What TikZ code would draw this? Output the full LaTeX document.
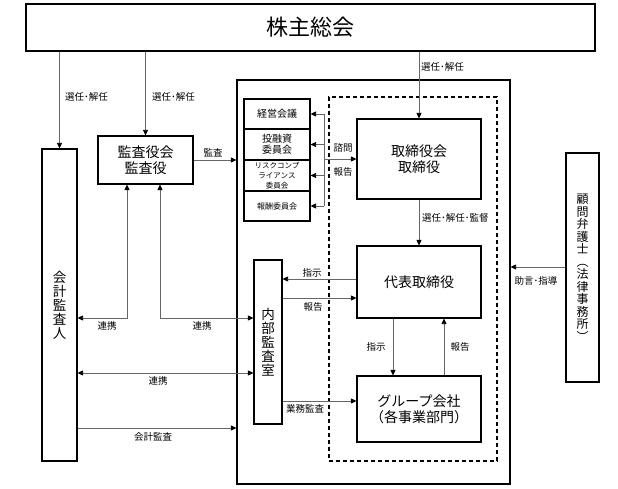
\documentclass[tikz,border=0pt]{standalone}
\usepackage{fontspec}
\setmainfont{Noto Sans CJK JP}
\usetikzlibrary{arrows.meta}
\begin{document}
\begin{tikzpicture}[x=1pt,y=-1pt,
  box/.style={draw=black,line width=1.1pt,inner sep=0pt,align=center},
  conn/.style={draw=black!60,line width=0.8pt},
  tip/.tip={Triangle[length=5.5pt,width=5pt,color=black]},
  arr/.style={conn,-tip},
  darr/.style={conn,tip-tip},
  lbl/.style={font=\fontsize{9.5}{11}\selectfont,inner sep=0pt}]
\useasboundingbox (0,0) rectangle (618,489);
\fill[white] (0,0) rectangle (618,489);

% frames
\node[draw=black,line width=1.1pt,minimum width=273pt,minimum height=404pt,inner sep=0pt] (big) at (373.5,282) {};
\node[draw=black,line width=1.1pt,dash pattern=on 4pt off 3pt,minimum width=168pt,minimum height=364pt,inner sep=0pt] (dash) at (413,279) {};

% boxes
\node[box,minimum width=569pt,minimum height=47pt,font=\fontsize{22}{24}\selectfont] (top) at (310.5,27.5) {株主総会};
\node[box,minimum width=35pt,minimum height=312pt,font=\fontsize{13.5}{14}\selectfont] (kaikei) at (59.5,305) {会\\計\\監\\査\\人};
\node[box,minimum width=95pt,minimum height=48pt,font=\fontsize{14}{16}\selectfont] (kansa) at (145.5,160) {監査役会\\監査役};
\node[box,minimum width=66pt,minimum height=30pt,font=\fontsize{10}{11}\selectfont] (c1) at (277,114) {経営会議};
\node[box,minimum width=66pt,minimum height=31pt,font=\fontsize{10}{11}\selectfont] (c2) at (277,144.5) {投融資\\委員会};
\node[box,minimum width=66pt,minimum height=31pt,font=\fontsize{7.5}{10}\selectfont] (c3) at (277,175.5) {リスクコンプ\\ライアンス\\委員会};
\node[box,minimum width=66pt,minimum height=30pt,font=\fontsize{8}{10}\selectfont] (c4) at (277,206) {報酬委員会};
\node[box,minimum width=124pt,minimum height=80pt,font=\fontsize{14}{16}\selectfont] (tori) at (419,159) {取締役会\\取締役};
\node[box,minimum width=124pt,minimum height=72pt,font=\fontsize{14}{16}\selectfont] (daihyo) at (419,282) {代表取締役};
\node[box,minimum width=124pt,minimum height=66pt,font=\fontsize{14}{16}\selectfont] (group) at (419,409) {グループ会社\\（各事業部門）};
\node[box,minimum width=28pt,minimum height=164pt,font=\fontsize{13.5}{14}\selectfont] (naibu) at (268,342) {内\\部\\監\\査\\室};
\node[box,minimum width=33pt,minimum height=229pt,font=\fontsize{12}{12.5}\selectfont] (komon) at (582.5,267.5) {顧\\問\\弁\\護\\士\\︵\\法\\律\\事\\務\\所\\︶};

% helper coordinates
\coordinate (bx) at (324,0);
\coordinate (x127) at (127,0);
\coordinate (x160) at (160,0);
\coordinate (x393) at (393,0);
\coordinate (x444) at (444,0);
\coordinate (y279) at (0,279);
\coordinate (y298) at (0,298);
\coordinate (y318) at (0,318);
\coordinate (y373) at (0,373);
\coordinate (y401) at (0,401);
\coordinate (y428) at (0,428);
\coordinate (y267) at (0,267);

% connectors
\draw[arr] (top.south -| kaikei.north) -- (kaikei.north);
\node[lbl,anchor=west] (l1) at (65,97) {選任･解任};
\draw[arr] (top.south -| kansa.north) -- (kansa.north);
\node[lbl,anchor=west] (l2) at (152,97) {選任･解任};
\draw[arr] (top.south -| tori.north) -- (tori.north);
\node[lbl,anchor=west] (l3) at (421,67) {選任･解任};

\draw[arr] (kansa.east) -- (kansa.east -| big.west);
\node[lbl] (l4) at (213,153) {監査};

\draw[conn] (c1.east -| bx) -- (c4.east -| bx);
\draw[arr] (c1.east -| bx) -- (c1.east);
\draw[arr] (c2.east -| bx) -- (c2.east);
\draw[arr] (c3.east -| bx) -- (c3.east);
\draw[arr] (c4.east -| bx) -- (c4.east);
\draw[arr] (tori.west -| bx) -- (tori.west);
\node[lbl] (l5) at (343,148) {諮問};
\node[lbl] (l6) at (343,172) {報告};

\draw[arr] (tori) -- (daihyo);
\node[lbl,anchor=west] (l7) at (422,218) {選任･解任･監督};

\draw[arr] (daihyo.west |- y279) -- (naibu.east |- y279);
\node[lbl] (l8) at (312,273) {指示};
\draw[arr] (naibu.east |- y298) -- (daihyo.west |- y298);
\node[lbl] (l9) at (313,307) {報告};

\draw[arr] (daihyo.south -| x393) -- (group.north -| x393);
\node[lbl] (l10) at (376,347) {指示};
\draw[arr] (group.north -| x444) -- (daihyo.south -| x444);
\node[lbl] (l11) at (460,347) {報告};

\draw[arr] (naibu.east |- y401) -- (group.west |- y401);
\node[lbl] (l12) at (305,409) {業務監査};

\draw[arr] (kaikei.east |- y428) -- (big.west |- y428);
\node[lbl] (l13) at (153,437) {会計監査};

\draw[darr] (kansa.south -| x127) -- (x127 |- y318) -- (kaikei.east |- y318);
\node[lbl] (l14) at (107,326) {連携};
\draw[darr] (kansa.south -| x160) -- (x160 |- y318) -- (naibu.west |- y318);
\node[lbl] (l15) at (202,326) {連携};
\draw[darr] (kaikei.east |- y373) -- (naibu.west |- y373);
\node[lbl] (l16) at (158,381) {連携};

\draw[arr] (komon.west |- y267) -- (big.east |- y267);
\node[lbl] (l17) at (536,281) {助言･指導};
\end{tikzpicture}
\end{document}
